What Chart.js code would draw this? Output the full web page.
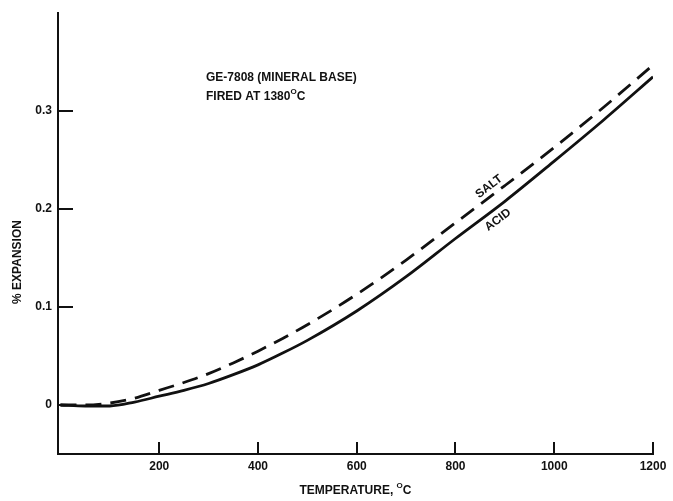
<!DOCTYPE html>
<html>
<head>
<meta charset="utf-8">
<script src="https://cdn.jsdelivr.net/npm/chart.js@4.4.0/dist/chart.umd.min.js"></script>
<style>
  html, body { margin: 0; padding: 0; background: #fff; }
  #wrap { width: 673px; height: 501px; position: relative; }
</style>
</head>
<body>
<div id="wrap"><canvas id="chart"></canvas></div>
<script>
// ========
// Data
// ========
const tempC = [0, 50, 100, 150, 200, 250, 300, 350, 400, 450, 500, 600, 700, 800, 900, 1000, 1100, 1200];
const acid  = [0, -0.001, -0.001, 0.003, 0.009, 0.015, 0.022, 0.031, 0.041, 0.053, 0.066, 0.096, 0.131, 0.170, 0.208, 0.249, 0.291, 0.335];
const salt  = [0, 0, 0.002, 0.007, 0.015, 0.023, 0.032, 0.043, 0.055, 0.068, 0.082, 0.113, 0.148, 0.186, 0.224, 0.263, 0.304, 0.347];

const xTicks = [200, 400, 600, 800, 1000, 1200];
const yTicks = [0, 0.1, 0.2, 0.3];

const FONT = "'Liberation Sans', Arial, sans-serif";
const INK = "#111";

// Draws text where some pieces are superscript (the old typed degree "O")
function drawParts(ctx, parts, x, y, size) {
    let cx = x;
    parts.forEach(p => {
        const s = p.sup ? Math.round(size * 0.7) : size;
        ctx.font = `bold ${s}px ${FONT}`;
        ctx.fillText(p.text, cx, p.sup ? y - size * 0.4 : y);
        cx += ctx.measureText(p.text).width;
    });
    return cx - x;
}
function partsWidth(ctx, parts, size) {
    let w = 0;
    parts.forEach(p => {
        ctx.font = `bold ${p.sup ? Math.round(size * 0.7) : size}px ${FONT}`;
        w += ctx.measureText(p.text).width;
    });
    return w;
}

// ── Inward tick marks, annotations and axis titles ──
const decorPlugin = {
    id: "decor",
    afterDraw(chart) {
        const { ctx, chartArea: a, scales: { x, y } } = chart;
        ctx.save();
        ctx.strokeStyle = INK;
        ctx.lineWidth = 2;
        // x ticks point up into the plot
        x.ticks.forEach(t => {
            const px = Math.round(x.getPixelForValue(t.value));
            ctx.beginPath(); ctx.moveTo(px, a.bottom); ctx.lineTo(px, a.bottom - 12); ctx.stroke();
        });
        // y ticks point right into the plot
        y.ticks.forEach(t => {
            const py = Math.round(y.getPixelForValue(t.value));
            ctx.beginPath(); ctx.moveTo(a.left, py); ctx.lineTo(a.left + 15, py); ctx.stroke();
        });

        ctx.fillStyle = INK;
        ctx.textBaseline = "middle";
        ctx.textAlign = "left";

        // specimen note
        ctx.font = `bold 12px ${FONT}`;
        ctx.fillText("GE-7808 (MINERAL BASE)", 206, 78);
        drawParts(ctx, [{ text: "FIRED AT 1380" }, { text: "O", sup: true }, { text: "C" }], 206, 97, 12);

        // curve labels, rotated along the lines
        const ang = -37 * Math.PI / 180;
        [["SALT", 868, 0.223], ["ACID", 886, 0.189]].forEach(([txt, tx, ty]) => {
            ctx.save();
            ctx.translate(x.getPixelForValue(tx), y.getPixelForValue(ty));
            ctx.rotate(ang);
            ctx.textAlign = "center";
            ctx.font = `bold 12px ${FONT}`;
            ctx.fillText(txt, 0, 0);
            ctx.restore();
        });

        // x axis title
        const xt = [{ text: "TEMPERATURE, " }, { text: "O", sup: true }, { text: "C" }];
        const w = partsWidth(ctx, xt, 12);
        drawParts(ctx, xt, (a.left + a.right) / 2 - w / 2, 491, 12);

        // y axis title
        ctx.save();
        ctx.translate(18, 262);
        ctx.rotate(-Math.PI / 2);
        ctx.textAlign = "center";
        ctx.font = `bold 12px ${FONT}`;
        ctx.fillText("% EXPANSION", 0, 0);
        ctx.restore();

        ctx.restore();
    }
};

new Chart(document.getElementById("chart"), {
    type: "line",
    data: {
        datasets: [
            {
                label: "SALT",
                data: tempC.map((t, i) => ({ x: t, y: salt[i] })),
                borderColor: INK,
                borderWidth: 2.8,
                borderDash: [16, 9],
                pointRadius: 0,
                cubicInterpolationMode: "monotone",
                fill: false
            },
            {
                label: "ACID",
                data: tempC.map((t, i) => ({ x: t, y: acid[i] })),
                borderColor: INK,
                borderWidth: 2.8,
                pointRadius: 0,
                cubicInterpolationMode: "monotone",
                fill: false
            }
        ]
    },
    options: {
        responsive: true,
        maintainAspectRatio: false,
        animation: false,
        layout: { padding: { left: 0, right: 20, top: 10, bottom: 0 } },
        plugins: { legend: { display: false }, tooltip: { enabled: false } },
        scales: {
            x: {
                type: "linear",
                min: -5, max: 1200,
                afterBuildTicks: s => { s.ticks = xTicks.map(v => ({ value: v })); },
                afterFit: s => { s.height = 47; },
                grid: { display: false, drawTicks: false },
                border: { display: true, color: INK, width: 2 },
                ticks: {
                    color: INK, padding: 5, maxRotation: 0,
                    font: { family: FONT, size: 12, weight: "bold" },
                    callback: v => String(v)
                }
            },
            y: {
                type: "linear",
                min: -0.05, max: 0.4,
                afterBuildTicks: s => { s.ticks = yTicks.map(v => ({ value: v })); },
                afterFit: s => { s.width = 58; },
                grid: { display: false, drawTicks: false },
                border: { display: true, color: INK, width: 2 },
                ticks: {
                    color: INK, padding: 6,
                    font: { family: FONT, size: 12, weight: "bold" },
                    callback: v => v === 0 ? "0" : v.toFixed(1)
                }
            }
        }
    },
    plugins: [decorPlugin]
});
</script>
</body>
</html>
